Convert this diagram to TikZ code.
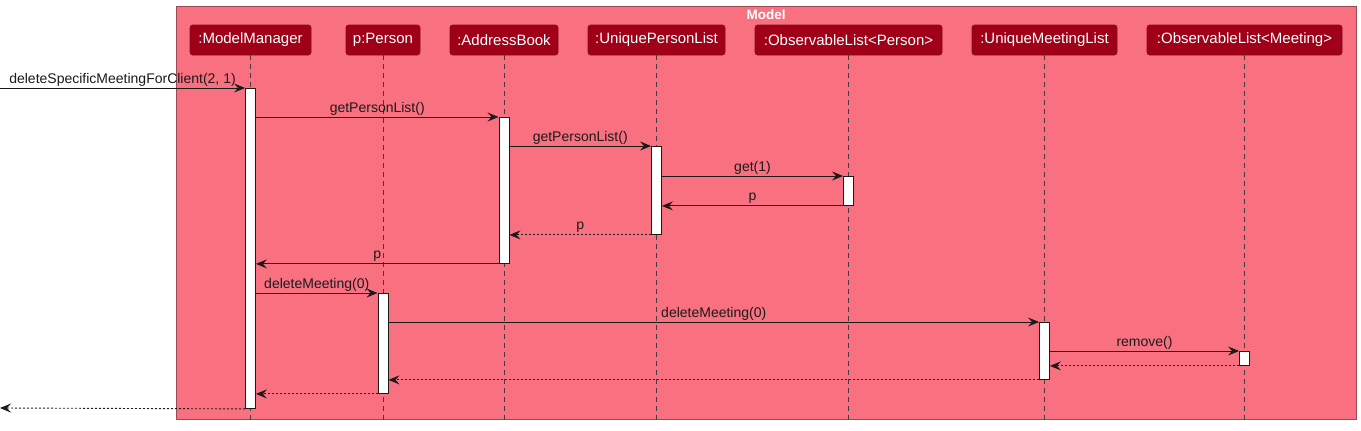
\documentclass[tikz,border=0pt]{standalone}
\usepackage{fontspec}
\setmainfont{Liberation Sans}
\usetikzlibrary{arrows.meta}
\definecolor{frameFill}{HTML}{F97181}
\definecolor{frameLine}{HTML}{9A4A55}
\definecolor{boxFill}{HTML}{A00018}
\definecolor{boxLine}{HTML}{80101E}
\definecolor{lifeLine}{HTML}{4A3A3C}
\definecolor{ink}{HTML}{1A1A1A}
\tikzset{
  head/.style={draw=boxLine, fill=boxFill, rounded corners=2.5pt, text=white,
    minimum height=30pt, inner sep=0pt, font=\fontsize{15}{17}\selectfont, line width=0.6pt},
  life/.style={draw=lifeLine, dash pattern=on 5pt off 4pt, line width=0.6pt},
  actbar/.style={draw=ink, fill=white, minimum width=10pt, inner sep=0pt, line width=0.9pt},
  call/.style={draw=ink, line width=0.9pt, -{Stealth[length=11pt,width=9pt,inset=4pt]}},
  ret/.style={call, dash pattern=on 2pt off 2pt},
  lbl/.style={midway, anchor=base, yshift=5pt, inner sep=0pt, text=ink, font=\fontsize{14}{16}\selectfont}
}
\begin{document}
\begin{tikzpicture}[x=1pt,y=-1pt]
\useasboundingbox (0,0) rectangle (1361,431);
% frame
\node[draw=frameLine, fill=frameFill, line width=0.8pt, minimum width=1180pt, minimum height=413pt, inner sep=0pt, anchor=north west] (frame) at (176,6) {};
\node[font=\bfseries\fontsize{13.5}{16}\selectfont, text=white, inner sep=0pt] (ftitle) at (766,15) {Model};
% heads
\node[head, minimum width=121pt] (mm) at (250.5,40) {:ModelManager};
\node[head, minimum width=74pt] (pp) at (383,40) {p:Person};
\node[head, minimum width=108pt] (ab) at (504,40) {:AddressBook};
\node[head, minimum width=137pt] (upl) at (656.5,40) {:UniquePersonList};
\node[head, minimum width=187pt] (olp) at (848.5,40) {:ObservableList<Person>};
\node[head, minimum width=145pt] (uml) at (1044.5,40) {:UniqueMeetingList};
\node[head, minimum width=195pt] (olm) at (1244.5,40) {:ObservableList<Meeting>};
% lifeline ends
\coordinate (emm) at (250.5,421);
\coordinate (epp) at (383,421);
\coordinate (eab) at (504,421);
\coordinate (eupl) at (656.5,421);
\coordinate (eolp) at (848.5,421);
\coordinate (euml) at (1044.5,421);
\coordinate (eolm) at (1244.5,421);
\draw[life] (mm.south) -- (emm);
\draw[life] (pp.south) -- (epp);
\draw[life] (ab.south) -- (eab);
\draw[life] (upl.south) -- (eupl);
\draw[life] (olp.south) -- (eolp);
\draw[life] (uml.south) -- (euml);
\draw[life] (olm.south) -- (eolm);
% activations
\node[actbar, minimum height=320pt, anchor=north] (amm) at (250.5,88) {};
\node[actbar, minimum height=146pt, anchor=north] (aab) at (504,117) {};
\node[actbar, minimum height=88pt, anchor=north] (aupl) at (656.5,146) {};
\node[actbar, minimum height=29pt, anchor=north] (aolp) at (848.5,176) {};
\node[actbar, minimum height=100pt, anchor=north] (app) at (383,293) {};
\node[actbar, minimum height=57pt, anchor=north] (auml) at (1044.5,322) {};
\node[actbar, minimum height=14pt, anchor=north] (aolm) at (1244.5,351) {};
% outside endpoints
\coordinate (cin) at (0,88);
\coordinate (cout) at (0,408);
% messages
\draw[call] (cin) -- (amm.north west) node[lbl] {deleteSpecificMeetingForClient(2, 1)};
\draw[call] (amm.east |- aab.north) -- (aab.north west) node[lbl] {getPersonList()};
\draw[call] (aab.east |- aupl.north) -- (aupl.north west) node[lbl] {getPersonList()};
\draw[call] (aupl.east |- aolp.north) -- (aolp.north west) node[lbl] {get(1)};
\draw[call] (aolp.south west) -- (aupl.east |- aolp.south) node[lbl] {p};
\draw[ret] (aupl.south west) -- (aab.east |- aupl.south) node[lbl] {p};
\draw[call] (aab.south west) -- (amm.east |- aab.south) node[lbl] {p};
\draw[call] (amm.east |- app.north) -- (app.north west) node[lbl] {deleteMeeting(0)};
\draw[call] (app.east |- auml.north) -- (auml.north west) node[lbl] {deleteMeeting(0)};
\draw[call] (auml.east |- aolm.north) -- (aolm.north west) node[lbl] {remove()};
\draw[ret] (aolm.south west) -- (auml.east |- aolm.south);
\draw[ret] (auml.south west) -- (app.east |- auml.south);
\draw[ret] (app.south west) -- (amm.east |- app.south);
\draw[ret] (amm.south west) -- (cout);
\end{tikzpicture}
\end{document}
